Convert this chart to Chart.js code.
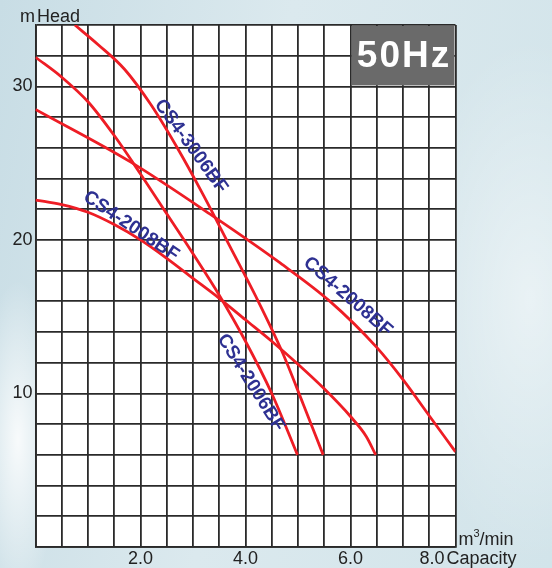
<!DOCTYPE html>
<html>
<head>
<meta charset="utf-8">
<script src="https://cdn.jsdelivr.net/npm/chart.js@4.4.0/dist/chart.umd.min.js"></script>
<style>
html, body { margin: 0; padding: 0; }
body {
    width: 552px; height: 568px; overflow: hidden;
    background:
        radial-gradient(ellipse 40px 160px at 18px 440px, rgba(255,255,255,0.85), rgba(255,255,255,0)),
        radial-gradient(ellipse 120px 260px at 530px 300px, rgba(255,255,255,0.5), rgba(255,255,255,0)),
        linear-gradient(100deg, #c8dde5 0%, #dbe9ee 45%, #d2e4ea 100%);
}
canvas { display: block; }
</style>
</head>
<body>
<canvas id="pumpChart" width="552" height="568"></canvas>
<script>
// capacity (m3/min) and head (m)
const seriesNames = ['CS4-3006BF', 'CS4-2006BF', 'CS4-2008BF', 'CS4-2008BF'];

const q3006 = [0.75, 1.2, 1.7, 2.2, 2.7, 3.2, 3.7, 4.2, 4.7, 5.1, 5.48];
const h3006 = [34.0, 32.7, 31.1, 28.8, 26.0, 22.9, 19.6, 16.3, 12.7, 9.3, 6.0];

const q2006 = [0, 0.5, 1.0, 1.5, 2.0, 2.5, 3.0, 3.5, 4.0, 4.5, 4.99];
const h2006 = [31.9, 30.6, 29.0, 26.8, 24.3, 21.7, 19.1, 16.4, 13.4, 10.0, 6.0];

const q2008b = [0, 1.80, 3.36, 4.66, 5.61, 6.50, 7.00, 7.51, 8.00];
const h2008b = [28.5, 25.1, 21.6, 18.5, 16.0, 13.0, 10.9, 8.5, 6.2];

const q2008a = [0, 0.5, 1.0, 1.5, 2.0, 2.5, 3.0, 3.5, 4.0, 4.5, 5.0, 5.5, 6.0, 6.3, 6.48];
const h2008a = [22.6, 22.3, 21.8, 21.0, 20.0, 18.8, 17.5, 16.2, 14.8, 13.4, 11.9, 10.3, 8.5, 7.2, 6.0];

const xTickLabels = ['2.0', '4.0', '6.0', '8.0'];
const yTickLabels = ['10', '20', '30'];

function pts(qs, hs) {
    return qs.map((q, i) => ({ x: q, y: hs[i] }));
}

const RED = '#ee1d25';
const NAVY = '#2e3192';
const GRID = '#2a2a2a';
const FONT = "'Liberation Sans', Arial, sans-serif";

// where the curve names sit (data coords) and their slant
const nameSpots = [
    { i: 0, q: 2.96, h: 26.1, deg: 54 },
    { i: 1, q: 4.10, h: 10.7, deg: 58 },
    { i: 2, q: 5.95, h: 16.3, deg: 41 },
    { i: 3, q: 1.82, h: 20.9, deg: 34 }
];

const decor = {
    id: 'decor',
    beforeDraw(chart) {
        const a = chart.chartArea;
        const ctx = chart.ctx;
        ctx.save();
        ctx.fillStyle = '#ffffff';
        ctx.fillRect(a.left, a.top, a.right - a.left, a.bottom - a.top);
        ctx.restore();
    },
    beforeDatasetsDraw(chart) {
        const ctx = chart.ctx;
        const x = chart.scales.x, y = chart.scales.y;
        const x0 = x.getPixelForValue(6) + 1, x1 = x.getPixelForValue(8) - 1;
        const y0 = y.getPixelForValue(34) + 1, y1 = y.getPixelForValue(30) - 1;
        ctx.save();
        ctx.fillStyle = '#6a6a6a';
        ctx.fillRect(x0, y0, x1 - x0, y1 - y0);
        ctx.fillStyle = '#ffffff';
        ctx.font = 'bold 37px ' + FONT;
        ctx.textAlign = 'center';
        ctx.textBaseline = 'middle';
        if ('letterSpacing' in ctx) ctx.letterSpacing = '2px';
        ctx.fillText('50Hz', (x0 + x1) / 2 + 1, (y0 + y1) / 2 + 1);
        ctx.restore();
    },
    afterDatasetsDraw(chart) {
        const ctx = chart.ctx;
        const x = chart.scales.x, y = chart.scales.y;
        ctx.save();
        ctx.fillStyle = NAVY;
        ctx.font = 'bold 19px ' + FONT;
        ctx.textAlign = 'center';
        ctx.textBaseline = 'middle';
        nameSpots.forEach(s => {
            ctx.save();
            ctx.translate(x.getPixelForValue(s.q), y.getPixelForValue(s.h));
            ctx.rotate(s.deg * Math.PI / 180);
            ctx.fillText(seriesNames[s.i], 0, 0);
            ctx.restore();
        });
        ctx.restore();
    },
    afterDraw(chart) {
        const ctx = chart.ctx;
        const a = chart.chartArea;
        ctx.save();
        ctx.fillStyle = '#222';
        ctx.font = '18px ' + FONT;
        ctx.textBaseline = 'alphabetic';
        ctx.textAlign = 'left';
        ctx.fillText('m', 20, 22);
        ctx.fillText('Head', 37, 22);
        ctx.fillText('m', a.right + 3, 545);
        const mw = ctx.measureText('m').width;
        ctx.font = '11px ' + FONT;
        ctx.fillText('3', a.right + 3 + mw, 537);
        const sw = ctx.measureText('3').width;
        ctx.font = '18px ' + FONT;
        ctx.fillText('/min', a.right + 3 + mw + sw, 545);
        ctx.textAlign = 'right';
        ctx.fillText(xTickLabels[3], a.right - 11, 564);
        ctx.textAlign = 'left';
        ctx.fillText('Capacity', a.right - 9, 564);
        ctx.restore();
    }
};

const lineStyle = {
    borderColor: RED,
    borderWidth: 2.8,
    pointRadius: 0,
    fill: false,
    cubicInterpolationMode: 'monotone'
};

new Chart(document.getElementById('pumpChart'), {
    type: 'line',
    data: {
        datasets: [
            Object.assign({ label: seriesNames[0], data: pts(q3006, h3006) }, lineStyle),
            Object.assign({ label: seriesNames[1], data: pts(q2006, h2006) }, lineStyle),
            Object.assign({ label: seriesNames[2], data: pts(q2008b, h2008b) }, lineStyle),
            Object.assign({ label: seriesNames[3], data: pts(q2008a, h2008a) }, lineStyle)
        ]
    },
    options: {
        responsive: false,
        animation: false,
        layout: { padding: { top: 25, right: 96.5, left: 0, bottom: 0 } },
        plugins: { legend: { display: false }, tooltip: { enabled: false } },
        scales: {
            x: {
                type: 'linear',
                min: 0, max: 8,
                afterFit: s => { s.height = 21; },
                ticks: {
                    stepSize: 0.5,
                    autoSkip: false,
                    maxRotation: 0,
                    padding: 1,
                    color: '#222',
                    font: { size: 18, family: FONT },
                    callback: v => {
                        const t = v.toFixed(1);
                        return (xTickLabels.includes(t) && v < 8) ? t : '';
                    }
                },
                grid: { color: GRID, lineWidth: 1.8, drawTicks: false },
                border: { color: GRID, width: 1.8 }
            },
            y: {
                min: 0, max: 34,
                afterFit: s => { s.width = 35.5; },
                ticks: {
                    stepSize: 2,
                    autoSkip: false,
                    padding: 3,
                    color: '#222',
                    font: { size: 18, family: FONT },
                    callback: v => yTickLabels.includes(String(v)) ? String(v) : ''
                },
                grid: { color: GRID, lineWidth: 1.8, drawTicks: false },
                border: { color: GRID, width: 1.8 }
            }
        }
    },
    plugins: [decor]
});
</script>
</body>
</html>
